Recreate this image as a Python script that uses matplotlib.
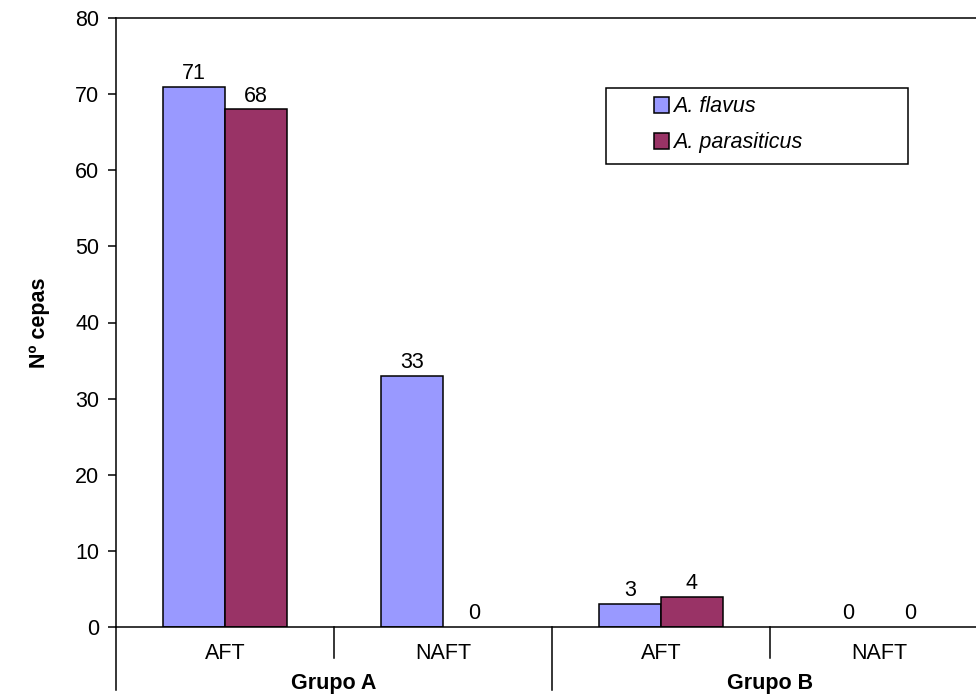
import matplotlib
matplotlib.use('Agg')
import matplotlib.pyplot as plt
import matplotlib.transforms as mtransforms
from matplotlib.patches import Rectangle
import numpy as np

plt.rcParams['font.family'] = ['Liberation Sans', 'DejaVu Sans']

# Datos
categorias = ['AFT', 'NAFT', 'AFT', 'NAFT']
grupos = ['Grupo A', 'Grupo B']
flavus = [71, 33, 3, 0]
parasiticus = [68, 0, 4, 0]
series_nombres = ['A. flavus', 'A. parasiticus']
colores = ['#9999FF', '#993366']

fs = 15.5

fig = plt.figure(figsize=(9.76, 6.95), dpi=100)
ax = fig.add_axes([116 / 976, 1 - 627 / 695, 872 / 976, 609 / 695])

x = np.arange(len(categorias))
ancho = 0.284
b1 = ax.bar(x - ancho / 2, flavus, ancho, color=colores[0], edgecolor='black', linewidth=1.1,
            label=series_nombres[0])
b2 = ax.bar(x + ancho / 2, parasiticus, ancho, color=colores[1], edgecolor='black', linewidth=1.1,
            label=series_nombres[1])

# Etiquetas de valores (las barras a cero no se dibujan)
for barras in (b1, b2):
    for r in barras:
        h = r.get_height()
        if h == 0:
            r.set_linewidth(0)
        ax.annotate(str(int(h)), (r.get_x() + r.get_width() / 2, h), xytext=(0, 2),
                    textcoords='offset points', ha='center', va='bottom', fontsize=fs)

ax.set_xlim(-0.5, 3.5)
ax.set_ylim(0, 80)
ax.set_yticks(np.arange(0, 81, 10))
ax.tick_params(axis='y', direction='out', length=6, width=1.1, labelsize=fs, pad=6)
ax.set_xticks([])
for s in ax.spines.values():
    s.set_linewidth(1.1)
ax.set_ylabel('Nº cepas', fontsize=fs, fontweight='bold', labelpad=18)

# Eje de categorías en dos niveles
trans = mtransforms.blended_transform_factory(ax.transData, ax.transAxes)
for i, xs in enumerate([-0.5, 0.5, 1.5, 2.5]):
    largo = -0.103 if i % 2 == 0 else -0.051
    ax.plot([xs, xs], [0, largo], transform=trans, color='black', lw=1.1, clip_on=False)
for xi, cat in zip(x, categorias):
    ax.text(xi, -0.044, cat, transform=trans, ha='center', va='center', fontsize=fs)
for gi, g in enumerate(grupos):
    ax.text(gi * 2 + 0.5, -0.092, g, transform=trans, ha='center', va='center',
            fontsize=fs, fontweight='bold')

# Leyenda
caja = Rectangle((606 / 976, 1 - 164 / 695), 302 / 976, 76 / 695, transform=fig.transFigure,
                 facecolor='white', edgecolor='black', linewidth=1.1, zorder=3)
fig.patches.append(caja)
leg = fig.legend(loc='upper left', bbox_to_anchor=(650 / 976, 1 - 92 / 695), frameon=False,
                 prop={'size': fs, 'style': 'italic'}, handlelength=0.7, handleheight=0.75,
                 handletextpad=0.15, labelspacing=0.7, borderpad=0.2, borderaxespad=0)
leg.set_zorder(4)

fig.savefig('out.png', dpi=100)
